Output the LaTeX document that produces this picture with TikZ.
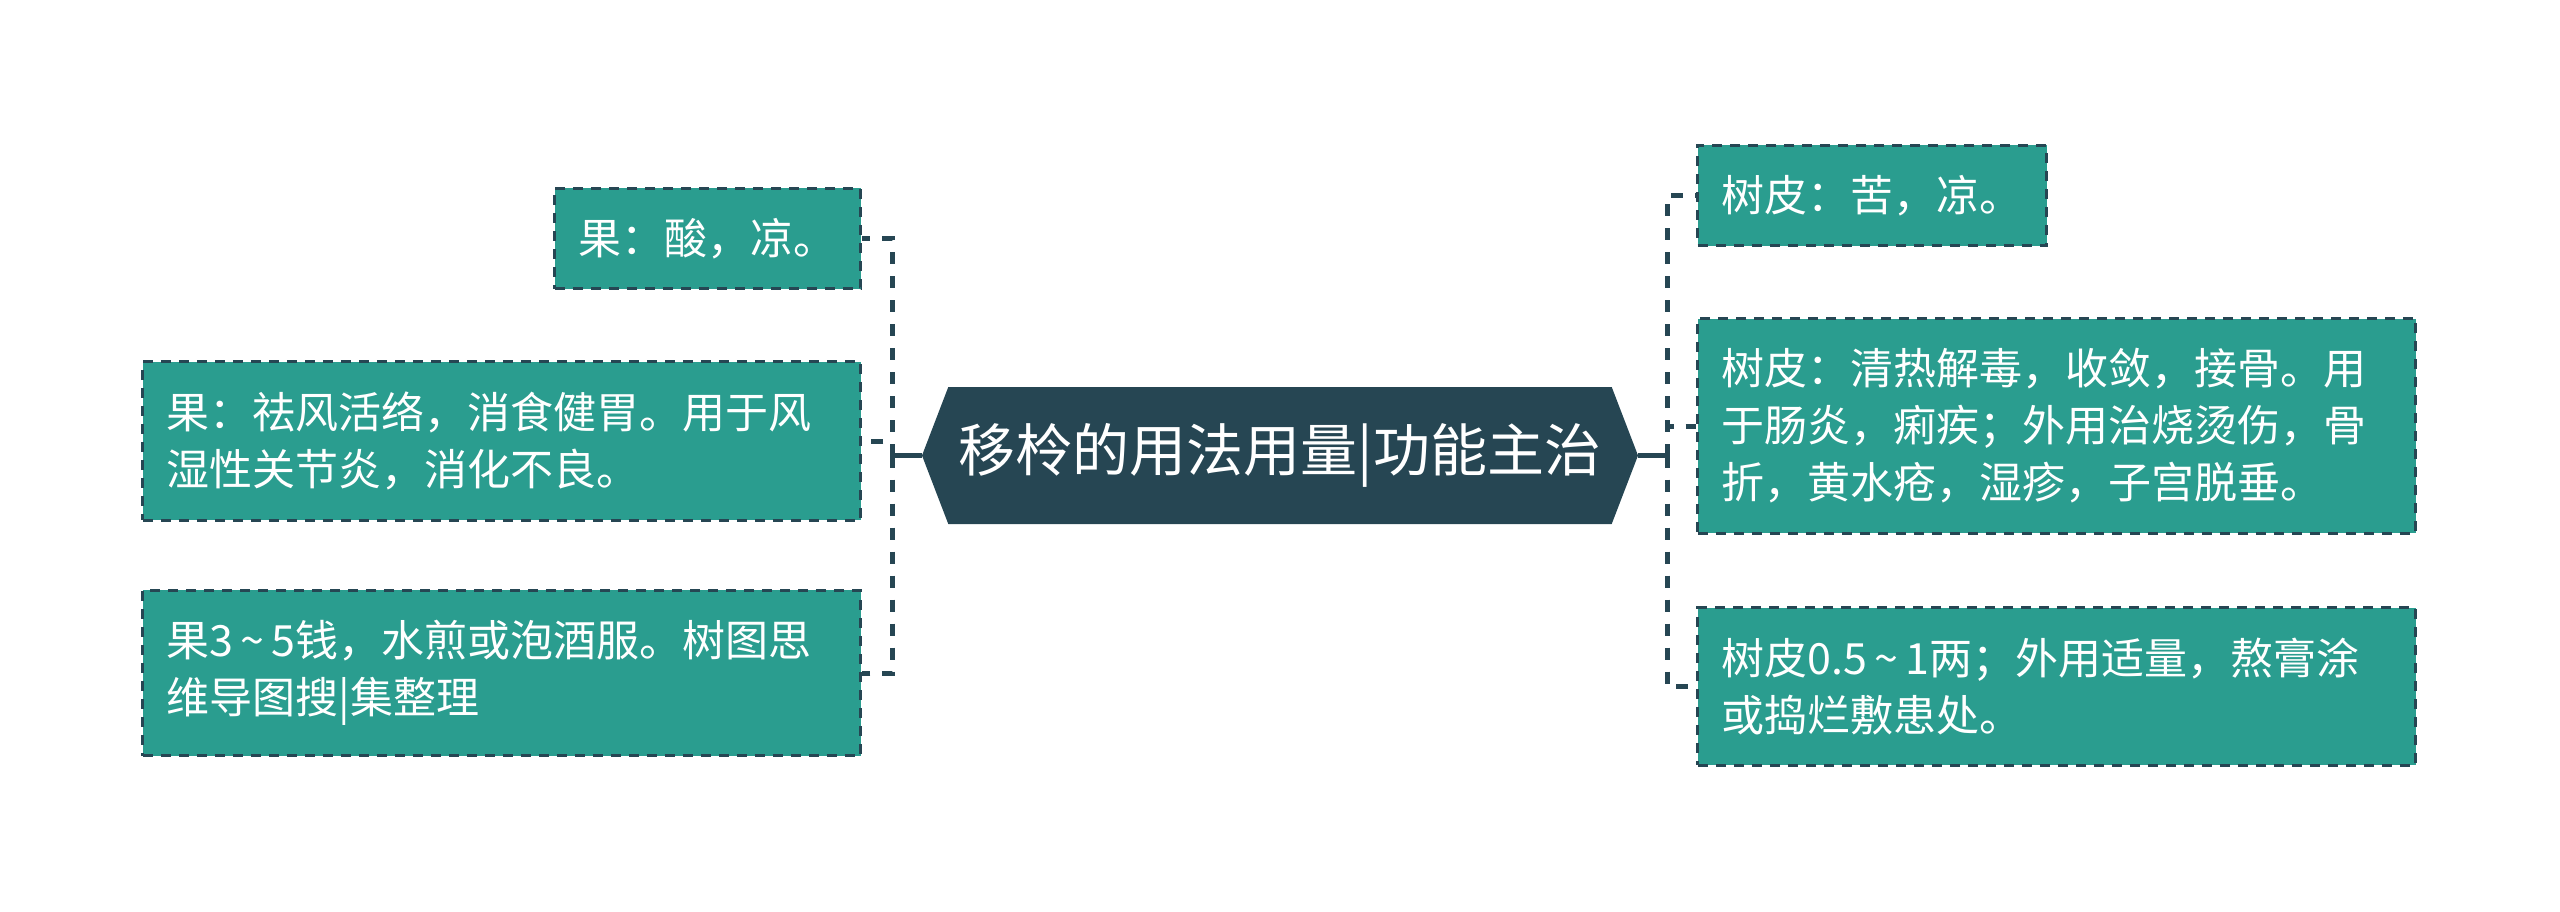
\documentclass[tikz,border=0pt]{standalone}
\usepackage{fontspec}
\setmainfont{Noto Sans CJK SC}
\usetikzlibrary{shapes.symbols}
\definecolor{darkslate}{HTML}{264653}
\definecolor{leafgreen}{HTML}{2A9D8F}

\begin{document}
\begin{tikzpicture}[x=1pt,y=-1pt]
    \tikzstyle{leaf}=[fill=leafgreen, draw=darkslate, line width=3pt, dash pattern=on 10pt off 8pt, text=white, font=\fontsize{43}{57}\selectfont, inner xsep=24pt, inner ysep=30pt, align=left]
    \tikzstyle{wideleaf}=[leaf, text width=670pt]
    \tikzstyle{title}=[signal, signal to=west and east, signal pointer angle=138, fill=darkslate, text=white, font=\fontsize{57}{68}\selectfont, minimum width=716pt, minimum height=137pt, inner sep=0pt]
    \tikzstyle{branch}=[draw=darkslate, line width=5pt, dash pattern=on 12pt off 12pt]
    \tikzstyle{stem}=[draw=darkslate, line width=4.5pt]

    \useasboundingbox (0,0) rectangle (2560,911);

    \node[title] (yl) at (1280,455.5) {移柃的用法用量|功能主治};

    % fruit side
    \node[leaf, anchor=east] (guo1) at (862,238.5) {果：酸，凉。};
    \node[wideleaf, anchor=east] (guo2) at (862,441) {果：祛风活络，消食健胃。用于风\\湿性关节炎，消化不良。};
    \node[wideleaf, anchor=east] (guo3) at (862,673) {果3\,\textasciitilde\,5钱，水煎或泡酒服。树图思\\维导图搜|集整理};

    % bark side
    \node[leaf, anchor=west] (pi1) at (1696,195.5) {树皮：苦，凉。};
    \node[wideleaf, anchor=west] (pi2) at (1696,426) {树皮：清热解毒，收敛，接骨。用\\于肠炎，痢疾；外用治烧烫伤，骨\\折，黄水疮，湿疹，子宫脱垂。};
    \node[wideleaf, anchor=west] (pi3) at (1696,686.5) {树皮0.5\,\textasciitilde\,1两；外用适量，熬膏涂\\或捣烂敷患处。};

    \draw[stem] (yl.west) -- ++(-29,0) coordinate (lhub);
    \draw[stem] (yl.east) -- ++(29,0) coordinate (rhub);

    \draw[branch] (lhub) |- (guo1.east);
    \draw[branch] (lhub) |- (guo2.east);
    \draw[branch] (lhub) |- (guo3.east);
    \draw[branch] (rhub) |- (pi1.west);
    \draw[branch] (rhub) |- (pi2.west);
    \draw[branch] (rhub) |- (pi3.west);
\end{tikzpicture}
\end{document}
